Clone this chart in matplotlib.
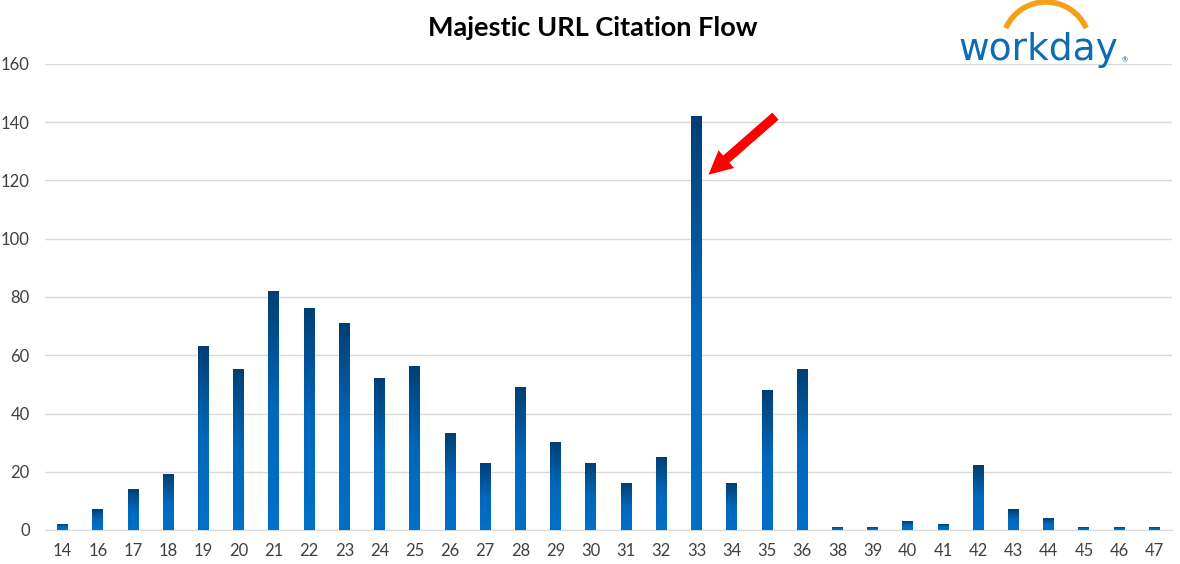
import numpy as np
import matplotlib
matplotlib.use("Agg")
import matplotlib.pyplot as plt
from matplotlib.colors import LinearSegmentedColormap
from matplotlib.patches import Arc

# data
weeks = ['14', '16', '17', '18', '19', '20', '21', '22', '23', '24', '25', '26', '27', '28',
         '29', '30', '31', '32', '33', '34', '35', '36', '38', '39', '40', '41', '42', '43',
         '44', '45', '46', '47']
flow = [2, 7, 14, 19, 63, 55, 82, 76, 71, 52, 56, 33, 23, 49, 30, 23, 16, 25, 142, 16,
        48, 55, 1, 1, 3, 2, 22, 7, 4, 1, 1, 1]
y_ticks = [0, 20, 40, 60, 80, 100, 120, 140, 160]

plt.rcParams['font.family'] = ['Lato', 'DejaVu Sans']

fig = plt.figure(figsize=(11.8, 5.64), dpi=100)
ax = fig.add_axes([45 / 1180, 34 / 564, 1127 / 1180, 466 / 564])

x = np.arange(len(weeks))
bw = 0.31
bars = ax.bar(x, flow, width=bw, color='none', edgecolor='none', zorder=3)

# vertical gradient per bar: bright blue at bottom, navy at top
cmap = LinearSegmentedColormap.from_list('bar', ['#0070c8', '#0068bb', '#003f74'])
grad = np.linspace(0, 1, 256).reshape(-1, 1)
for b in bars:
    x0, h = b.get_x(), b.get_height()
    ax.imshow(grad, cmap=cmap, origin='lower', aspect='auto',
              extent=[x0, x0 + bw, 0, h], zorder=3)

ax.set_xlim(-0.5, len(weeks) - 0.5)
ax.set_ylim(0, 160)
ax.set_xticks(x)
ax.set_xticklabels(weeks)
ax.set_yticks(y_ticks)
ax.grid(axis='y', color='#d9d9d9', linewidth=1, zorder=0)
ax.set_axisbelow(True)
for s in ['top', 'right', 'left']:
    ax.spines[s].set_visible(False)
ax.spines['bottom'].set_color('#d9d9d9')
ax.tick_params(axis='both', length=0, labelsize=12, colors='#404040')
ax.tick_params(axis='x', pad=9)
ax.tick_params(axis='y', pad=11)

fig.text(0.502, 0.95, 'Majestic URL Citation Flow', ha='center', va='center',
         fontsize=19.5, fontweight='bold', color='black')

# arrow pointing at the spike
ax.annotate('', xy=(18.34, 122.0), xytext=(20.24, 142.1),
            arrowprops=dict(arrowstyle='simple,head_length=0.85,head_width=0.85,tail_width=0.34',
                            mutation_scale=20, color='#ff0000', lw=0,
                            shrinkA=0, shrinkB=0), zorder=5)

# workday logo
fig.text(1038 / 1180, 1 - 50 / 564, 'workday', ha='center', va='center',
         fontsize=27, color='#0b6db3', family=['DejaVu Sans'])
fig.text(1125 / 1180, 1 - 60 / 564, '®', ha='center', va='center', fontsize=5, color='#0b6db3')
lax = fig.add_axes([0, 0, 1, 1], facecolor='none')
lax.set_xlim(0, 1180)
lax.set_ylim(564, 0)
lax.axis('off')
lax.add_patch(Arc((1046, 46), 88, 88, theta1=204, theta2=336, color='#f5a01a', lw=4))

fig.savefig('out.png', dpi=100)
